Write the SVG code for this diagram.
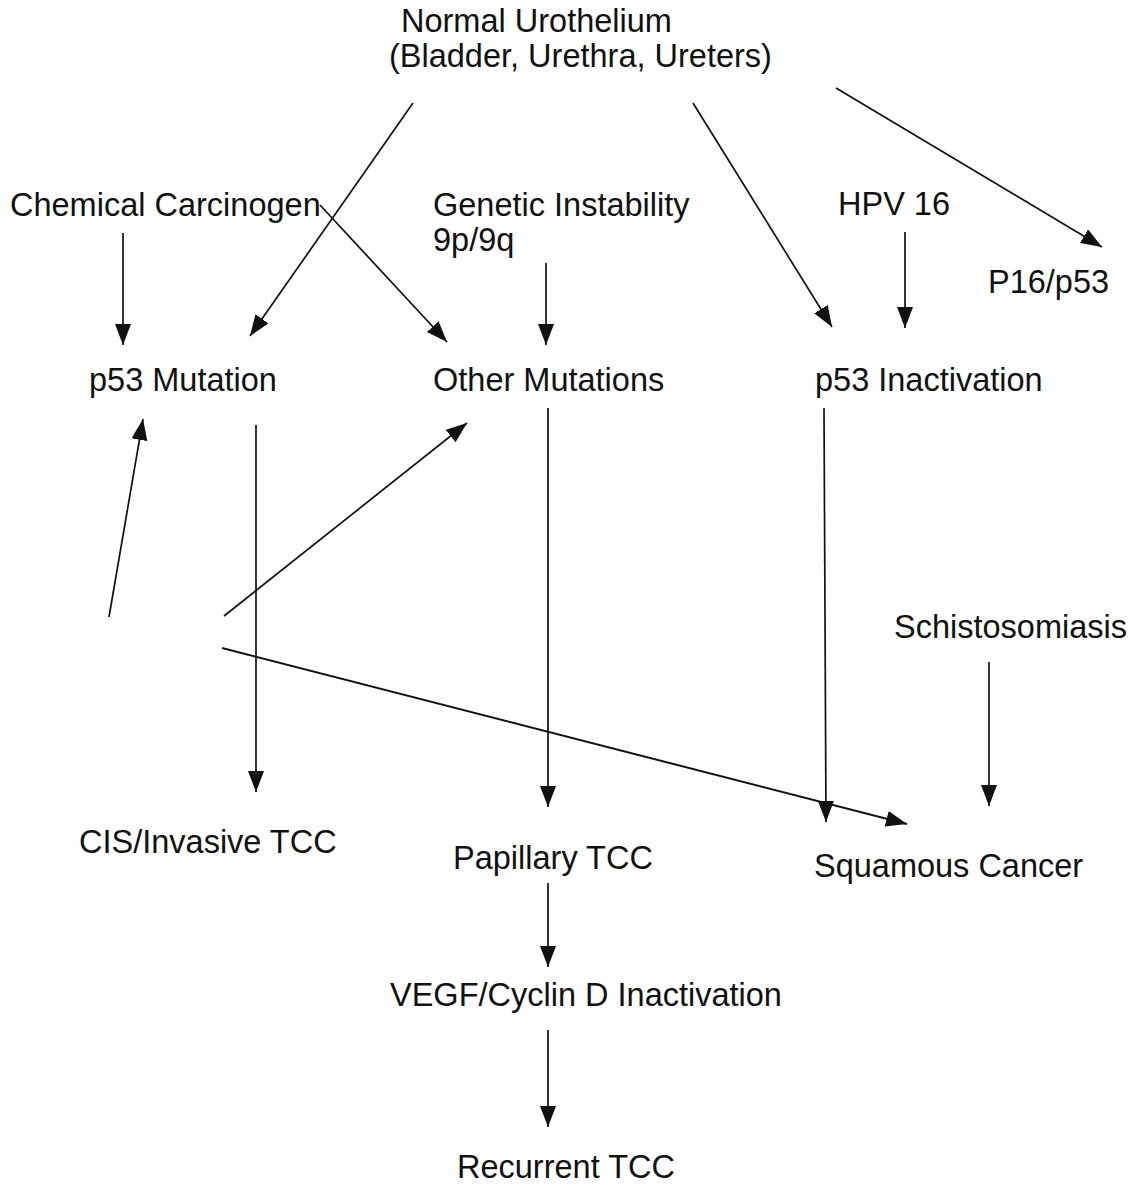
<svg xmlns="http://www.w3.org/2000/svg" width="1136" height="1187" viewBox="0 0 1136 1187">
<style>
text{font-family:"Liberation Sans",Arial,sans-serif;font-size:32.5px;fill:#111}
.c line{stroke:#111;stroke-width:1.7;marker-end:url(#ah)}
</style>
<defs>
<marker id="ah" markerUnits="userSpaceOnUse" markerWidth="24" markerHeight="18" refX="21" refY="8" orient="auto">
<path d="M0,0 L21,8 L0,16 Z" fill="#111"/>
</marker>
</defs>
<rect width="1136" height="1187" fill="#fff"/>
<g id="normal"><text x="401" y="32">Normal Urothelium</text><text x="389" y="67">(Bladder, Urethra, Ureters)</text></g>
<g id="chemical"><text x="10" y="216">Chemical Carcinogen</text></g>
<g id="genetic"><text x="433" y="216">Genetic Instability</text><text x="433" y="251">9p/9q</text></g>
<g id="hpv"><text x="838" y="215">HPV 16</text></g>
<g id="p16"><text x="988" y="293">P16/p53</text></g>
<g id="p53mut"><text x="89" y="391">p53 Mutation</text></g>
<g id="othermut"><text x="433" y="391">Other Mutations</text></g>
<g id="p53inact"><text x="815" y="391">p53 Inactivation</text></g>
<g id="schisto"><text x="894" y="638">Schistosomiasis</text></g>
<g id="cis"><text x="79" y="853">CIS/Invasive TCC</text></g>
<g id="papillary"><text x="453" y="869">Papillary TCC</text></g>
<g id="squamous"><text x="814" y="877">Squamous Cancer</text></g>
<g id="vegf"><text x="390" y="1006">VEGF/Cyclin D Inactivation</text></g>
<g id="recurrent"><text x="457" y="1178">Recurrent TCC</text></g>
<g class="c" id="connectors">
<line x1="413" y1="103" x2="250" y2="336"/>
<line x1="693" y1="103" x2="832" y2="327"/>
<line x1="836" y1="88" x2="1102" y2="247"/>
<line x1="123" y1="233" x2="123" y2="345"/>
<line x1="320" y1="205" x2="447" y2="342"/>
<line x1="546" y1="263" x2="546" y2="345"/>
<line x1="905" y1="232" x2="905" y2="328"/>
<line x1="256" y1="425" x2="256" y2="792"/>
<line x1="548" y1="408" x2="548" y2="807"/>
<line x1="824" y1="408" x2="826" y2="822"/>
<line x1="989" y1="662" x2="989" y2="806"/>
<line x1="109" y1="617" x2="143" y2="419"/>
<line x1="224" y1="616" x2="467" y2="423"/>
<line x1="222" y1="648" x2="907" y2="824" style="stroke-width:2"/>
<line x1="548" y1="883" x2="548" y2="967"/>
<line x1="548" y1="1030" x2="548" y2="1127"/>
</g>
</svg>
